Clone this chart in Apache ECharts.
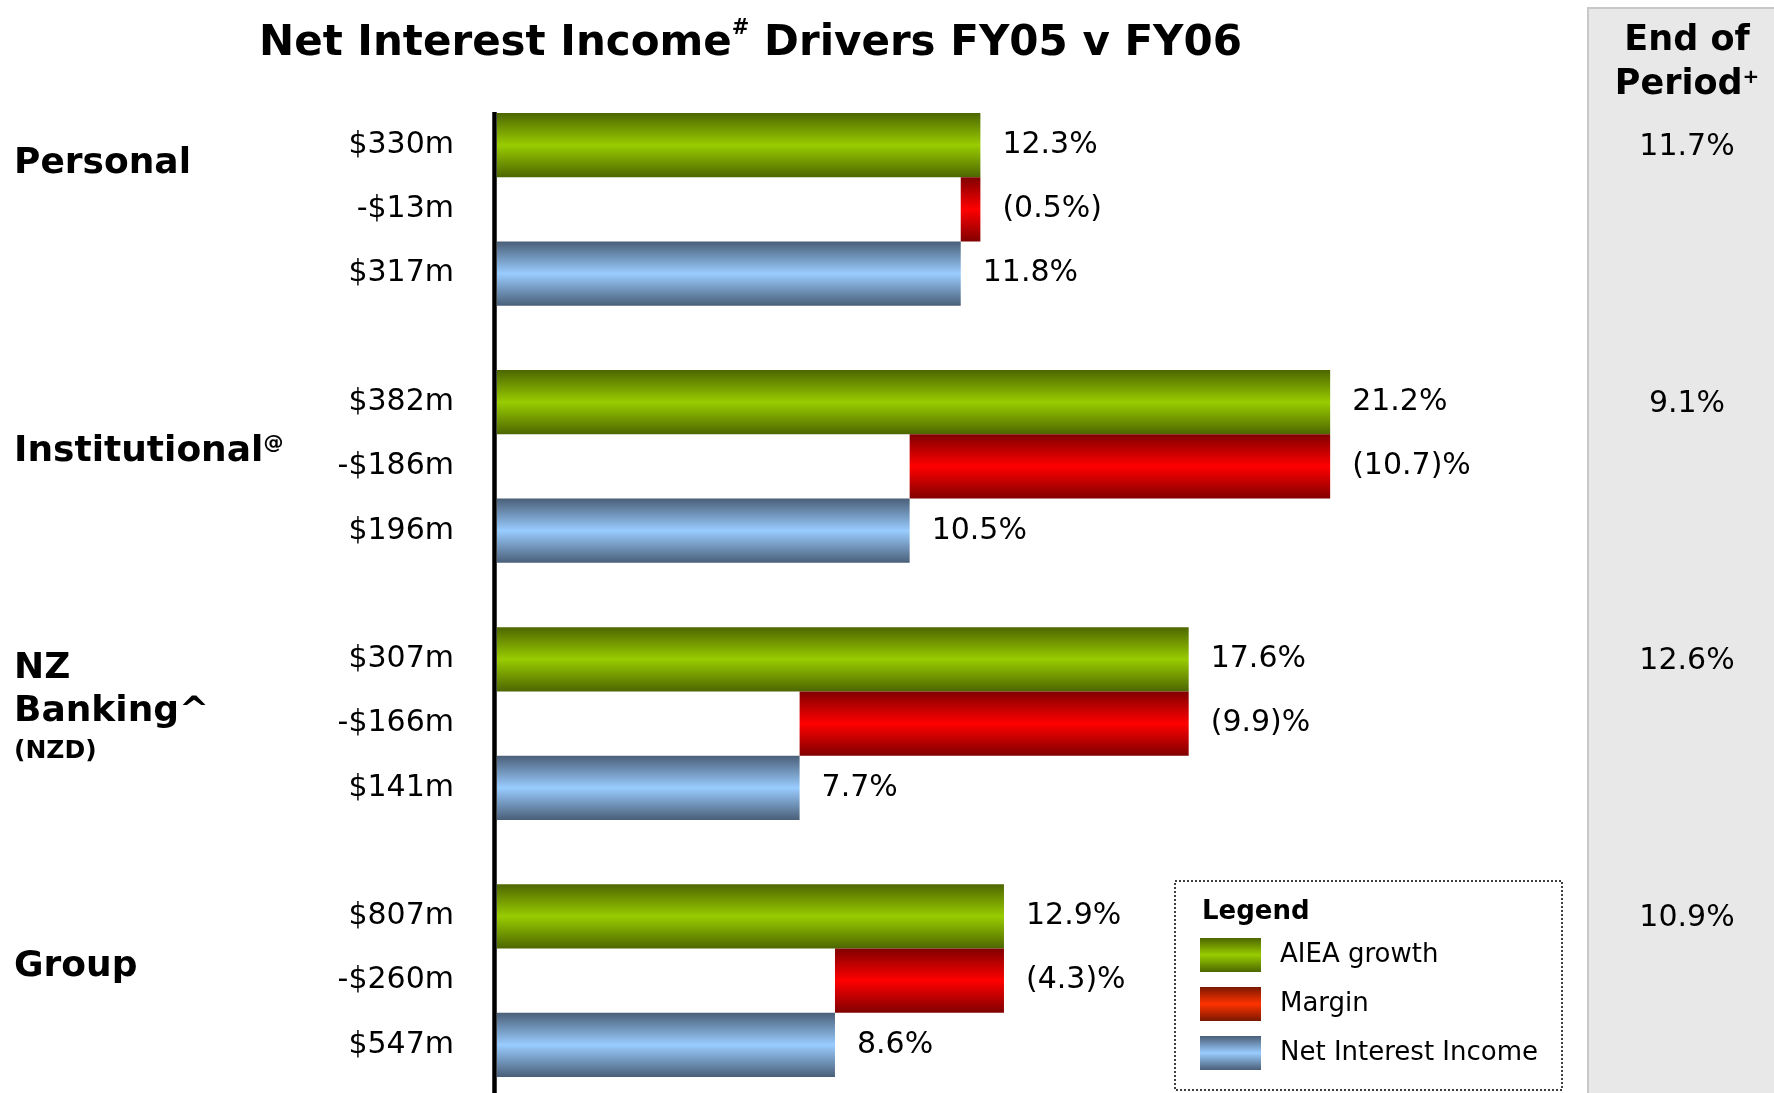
<!DOCTYPE html>
<html>
<head>
<meta charset="utf-8">
<script src="https://cdn.jsdelivr.net/npm/echarts@6/dist/echarts.min.js"></script>
<style>
    html, body { margin: 0; padding: 0; background: #fff; }
    #main { width: 1774px; height: 1093px; }
</style>
</head>
<body>
<div id="main"></div>
<script>
// segment data (growth %, FY05 -> FY06)
var segments = ['Personal', 'Institutional', 'NZ Banking', 'Group']
var aieaGrowth = [12.3, 21.2, 17.6, 12.9]
var marginChange = [-0.5, -10.7, -9.9, -4.3]
var niiGrowth = [11.8, 10.5, 7.7, 8.6]
var aieaDollar = ['$330m', '$382m', '$307m', '$807m']
var marginDollar = ['-$13m', '-$186m', '-$166m', '-$260m']
var niiDollar = ['$317m', '$196m', '$141m', '$547m']
var marginText = ['(0.5%)', '(10.7)%', '(9.9)%', '(4.3)%']
var endOfPeriod = ['11.7%', '9.1%', '12.6%', '10.9%']

var FONT = '"DejaVu Sans", Verdana, sans-serif'

function grad(c1, c2) {
    return new echarts.graphic.LinearGradient(0, 0, 0, 1, [
        { offset: 0, color: c1 },
        { offset: 0.5, color: c2 },
        { offset: 1, color: c1 }
    ])
}

// 4 rows per segment: AIEA, margin, NII, gap (no gap after the last one)
var cats = [], greenData = [], baseData = [], redData = [], blueData = []
segments.forEach(function (s, i) {
    cats.push(aieaDollar[i], marginDollar[i], niiDollar[i])
    greenData.push(aieaGrowth[i], '-', '-')
    baseData.push('-', +(aieaGrowth[i] + marginChange[i]).toFixed(1), '-')
    redData.push('-', -marginChange[i], '-')
    blueData.push('-', '-', niiGrowth[i])
    if (i < segments.length - 1) {
        cats.push(' '.repeat(i + 1))
        greenData.push('-'); baseData.push('-'); redData.push('-'); blueData.push('-')
    }
})

var labelBase = {
    show: true,
    position: 'right',
    distance: 22,
    color: '#000',
    fontFamily: FONT,
    fontSize: 30
}

var chart = echarts.init(document.getElementById('main'))
var option = {
    animation: false,
    backgroundColor: '#fff',
    title: {
        left: 254,
        top: 13,
        text: '{a|Net Interest Income}{s|#}{a| Drivers FY05 v FY06}',
        textStyle: {
            rich: {
                a: { fontFamily: FONT, fontWeight: 'bold', fontSize: 42, color: '#000', lineHeight: 52 },
                s: { fontFamily: FONT, fontWeight: 'bold', fontSize: 21, color: '#000', verticalAlign: 'top', lineHeight: 52, padding: [0, 0, 14, 0] }
            }
        }
    },
    // 15 rows of 64.25px
    grid: { left: 497, right: 98, top: 113, bottom: 16 },
    xAxis: { type: 'value', min: 0, max: 30, show: false },
    yAxis: {
        type: 'category',
        data: cats,
        inverse: true,
        axisLine: { show: false },
        axisTick: { show: false },
        splitLine: { show: false },
        axisLabel: { color: '#000', fontFamily: FONT, fontSize: 30, margin: 43 }
    },
    legend: {
        orient: 'vertical',
        left: 1200,
        top: 938,
        padding: 0,
        itemWidth: 61,
        itemHeight: 34,
        itemGap: 15,
        icon: 'rect',
        selectedMode: false,
        textStyle: { color: '#000', fontFamily: FONT, fontSize: 26, padding: [0, 0, 0, 14] },
        data: [
            { name: 'AIEA growth' },
            { name: 'Margin', itemStyle: { color: grad('#7a1800', '#ff3300') } },
            { name: 'Net Interest Income' }
        ]
    },
    series: [
        {
            name: 'AIEA growth', type: 'bar', stack: 'nii', barCategoryGap: '0%',
            data: greenData,
            itemStyle: { color: grad('#4d6600', '#99cc00') },
            label: Object.assign({}, labelBase, { formatter: '{c}%' })
        },
        {
            name: 'base', type: 'bar', stack: 'nii', barCategoryGap: '0%',
            data: baseData,
            itemStyle: { color: 'rgba(0,0,0,0)' },
            emphasis: { disabled: true }
        },
        {
            name: 'Margin', type: 'bar', stack: 'nii', barCategoryGap: '0%',
            data: redData,
            itemStyle: { color: grad('#800000', '#ff0000') },
            label: Object.assign({}, labelBase, {
                formatter: function (p) { return marginText[Math.floor(p.dataIndex / 4)] }
            })
        },
        {
            name: 'Net Interest Income', type: 'bar', stack: 'nii', barCategoryGap: '0%',
            data: blueData,
            itemStyle: { color: grad('#4a5f78', '#99ccff') },
            label: Object.assign({}, labelBase, { formatter: '{c}%' })
        }
    ]
}
chart.setOption(option)

// side texts placed against the axes
function rowY(i) { return chart.convertToPixel({ yAxisIndex: 0 }, i) }
var x0 = chart.convertToPixel({ xAxisIndex: 0 }, 0)
var bold = function (size) { return { fontFamily: FONT, fontWeight: 'bold', fontSize: size, fill: '#000' } }

var graphics = [
    // end of period panel
    { type: 'rect', z: -10, shape: { x: 1588, y: 8, width: 200, height: 1100 },
      style: { fill: '#e8e8e8', stroke: '#c8c8c8', lineWidth: 2 } },
    { type: 'text', x: 1687, y: 41, style: Object.assign(bold(35), { text: 'End of', align: 'center', verticalAlign: 'middle' }) },
    { type: 'text', x: 1687, y: 85, style: Object.assign(bold(35), {
        text: '{a|Period}{s|+}', align: 'center', verticalAlign: 'middle',
        rich: { a: bold(35), s: Object.assign(bold(20), { verticalAlign: 'top', padding: [0, 0, 12, 0] }) }
    }) },
    // vertical zero line, runs to the bottom edge
    { type: 'line', z: 5, shape: { x1: x0 - 2.5, y1: 112, x2: x0 - 2.5, y2: 1093 },
      style: { stroke: '#000', lineWidth: 4.5 } },
    // legend box
    { type: 'rect', z: 1, shape: { x: 1175, y: 881, width: 387, height: 209 },
      style: { fill: '#fff', stroke: '#000', lineWidth: 1.5, lineDash: [2, 2] } },
    { type: 'text', z: 2, x: 1202, y: 912, style: Object.assign(bold(26), { text: 'Legend', verticalAlign: 'middle' }) },
    // segment names
    { type: 'text', x: 14, y: 164, style: Object.assign(bold(36), { text: 'Personal', verticalAlign: 'middle' }) },
    { type: 'text', x: 14, y: 452, style: Object.assign(bold(36), {
        text: '{a|Institutional}{s|@}', verticalAlign: 'middle',
        rich: { a: bold(36), s: Object.assign(bold(20), { verticalAlign: 'top', padding: [0, 0, 14, 0] }) }
    }) },
    { type: 'text', x: 14, y: 669, style: Object.assign(bold(36), { text: 'NZ', verticalAlign: 'middle' }) },
    { type: 'text', x: 14, y: 712, style: Object.assign(bold(36), { text: 'Banking^', verticalAlign: 'middle' }) },
    { type: 'text', x: 14, y: 751, style: Object.assign(bold(25), { text: '(NZD)', verticalAlign: 'middle' }) },
    { type: 'text', x: 14, y: 967, style: Object.assign(bold(36), { text: 'Group', verticalAlign: 'middle' }) }
]
endOfPeriod.forEach(function (v, i) {
    graphics.push({
        type: 'text', x: 1687, y: rowY(i * 4) + 2,
        style: { text: v, fontFamily: FONT, fontSize: 30, fill: '#000', align: 'center', verticalAlign: 'middle' }
    })
})
chart.setOption({ graphic: graphics })
</script>
</body>
</html>
